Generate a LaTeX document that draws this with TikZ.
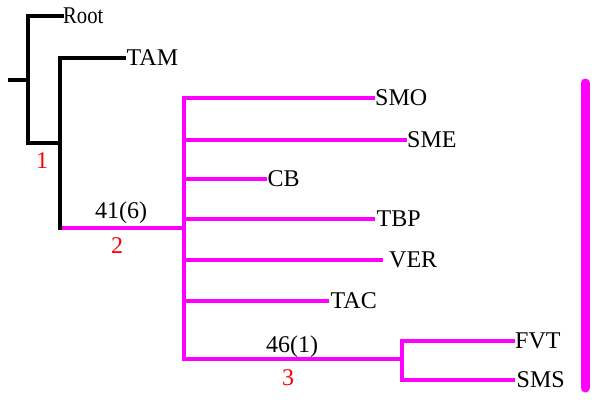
\documentclass[tikz,border=0pt]{standalone}
\usepackage{fontspec}
\setmainfont{Liberation Serif}
\definecolor{mag}{RGB}{255,0,255}
\definecolor{lblred}{RGB}{255,0,0}
\begin{document}
\begin{tikzpicture}[x=1pt,y=-1pt,
  blk/.style={line width=3.5pt,black,line cap=rect},
  magl/.style={line width=3.5pt,mag,line cap=rect},
  leaf/.style={anchor=west,inner ysep=0pt,inner xsep=2pt,font=\fontsize{24}{28}\selectfont},
  numlbl/.style={inner sep=0pt,font=\fontsize{24}{28}\selectfont},
  redlbl/.style={inner sep=0pt,text=lblred,font=\fontsize{24}{28}\selectfont},
  barl/.style={line width=9pt,mag,line cap=round}]
\useasboundingbox (0,0) rectangle (600,402);
% internal nodes
\coordinate (stem) at (10,80);
\coordinate (n0) at (28,80);
\coordinate (n1) at (60,143);
\coordinate (n1b) at (60,228);
\coordinate (n2) at (184,228);
\coordinate (n3) at (402,359);
% leaves
\node[leaf,inner xsep=1pt] (root) at (62,16) {\scalebox{0.86}[1]{Root}};
\node[leaf,inner xsep=2.5pt] (tam) at (124,58) {TAM};
\node[leaf] (smo) at (373,98) {SMO};
\node[leaf] (sme) at (405,140) {SME};
\node[leaf,inner xsep=2.5pt] (cb) at (265,179) {CB};
\node[leaf,inner xsep=3.5pt] (tbp) at (373,219) {TBP};
\node[leaf,inner xsep=8pt] (ver) at (381,260) {VER};
\node[leaf,inner xsep=3.5pt] (tac) at (327,301) {TAC};
\node[leaf] (fvt) at (513,341) {FVT};
\node[leaf,inner xsep=3.5pt] (sms) at (513,380) {SMS};
% magenta edges
\draw[magl,line cap=butt] (n1b) -- (n2);
\draw[magl] (n2) |- (smo.west);
\draw[magl] (n2) |- (sme.west);
\draw[magl] (n2) |- (cb.west);
\draw[magl] (n2) |- (tbp.west);
\draw[magl] (n2) |- (ver.west);
\draw[magl] (n2) |- (tac.west);
\draw[magl] (n2) |- (n3);
\draw[magl] (n3) |- (fvt.west);
\draw[magl] (n3) |- (sms.west);
% black edges
\draw[blk] (stem) -- (n0);
\draw[blk] (n0) |- (root.west);
\draw[blk] (n0) |- (n1);
\draw[blk] (n1) |- (tam.west);
\draw[blk] (n1) -- (n1b);
% labels
\node[numlbl] (l41) at (121,213) {41(6)};
\node[numlbl] (l46) at (292,347) {46(1)};
\node[redlbl] (r1) at (42,161) {1};
\node[redlbl] (r2) at (117,246) {2};
\node[redlbl] (r3) at (288,378) {3};
% bar
\coordinate (barTop) at (585,83);
\coordinate (barBot) at (585,388);
\draw[barl] (barTop) -- (barBot);
\end{tikzpicture}
\end{document}
